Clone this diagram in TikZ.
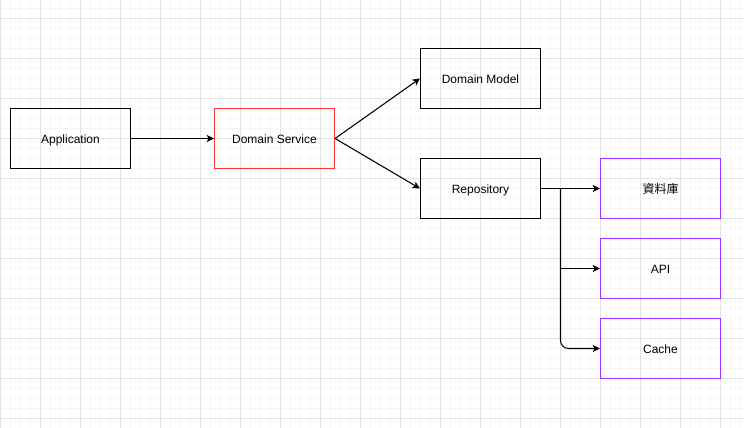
\documentclass[tikz,border=0pt]{standalone}
\usepackage{fontspec}
\setmainfont{Liberation Sans}
\newfontfamily\cjk{Noto Sans CJK TC}
\usetikzlibrary{arrows.meta}

\definecolor{gridmajor}{RGB}{226,226,226}
\definecolor{gridminor}{RGB}{246,246,246}
\definecolor{servicered}{RGB}{255,51,51}
\definecolor{storepurple}{RGB}{153,51,255}

\tikzset{
  box/.style={draw, line width=0.9pt, minimum width=90pt, minimum height=45pt, inner sep=0pt, text height=7.9pt, text depth=0pt, font=\fontsize{9pt}{11pt}\selectfont},
  edge/.style={line width=0.8pt, -{Stealth[length=5.5pt,width=5.5pt,inset=1.5pt]}},
}

\begin{document}
\begin{tikzpicture}[x=0.75pt,y=0.75pt,yscale=-1,xscale=1]
\useasboundingbox (0,0) rectangle (744,428);

%Grid
\foreach \i in {0,...,74} \draw [gridminor, line width=0.6pt] (0.5+10*\i,0) -- (0.5+10*\i,428);
\foreach \i in {0,...,42} \draw [gridminor, line width=0.6pt] (0,8.5+10*\i) -- (744,8.5+10*\i);
\foreach \i in {0,...,18} \draw [gridmajor, line width=0.6pt] (0.5+40*\i,0) -- (0.5+40*\i,428);
\foreach \i in {0,...,10} \draw [gridmajor, line width=0.6pt] (0,18.5+40*\i) -- (744,18.5+40*\i);

%Shape: Rectangle
\node [box] (app) at (70.5,138.5) {Application};
%Shape: Rectangle
\node [box, draw=servicered] (service) at (274.5,138.5) {Domain Service};
%Shape: Rectangle
\node [box] (model) at (480.5,78.5) {Domain Model};
%Shape: Rectangle
\node [box] (repo) at (480.5,188.5) {Repository};
%Shape: Rectangle
\node [box, draw=storepurple] (db) at (660.5,188.5) {\cjk 資料庫};
%Shape: Rectangle
\node [box, draw=storepurple] (api) at (660.5,268.5) {API};
%Shape: Rectangle
\node [box, draw=storepurple] (cache) at (660.5,348.5) {Cache};

\coordinate (split) at (560.5,188.5);

%Straight Lines
\draw [edge] (app) -- (service);
\draw [edge] (service.east) -- (model.west);
\draw [edge] (service.east) -- (repo.west);
\draw [edge] (repo) -- (db);
%Elbow Lines
\draw [edge] (split) |- (api.west);
\draw [edge, rounded corners=6pt] (split) |- (cache.west);

\end{tikzpicture}
\end{document}
